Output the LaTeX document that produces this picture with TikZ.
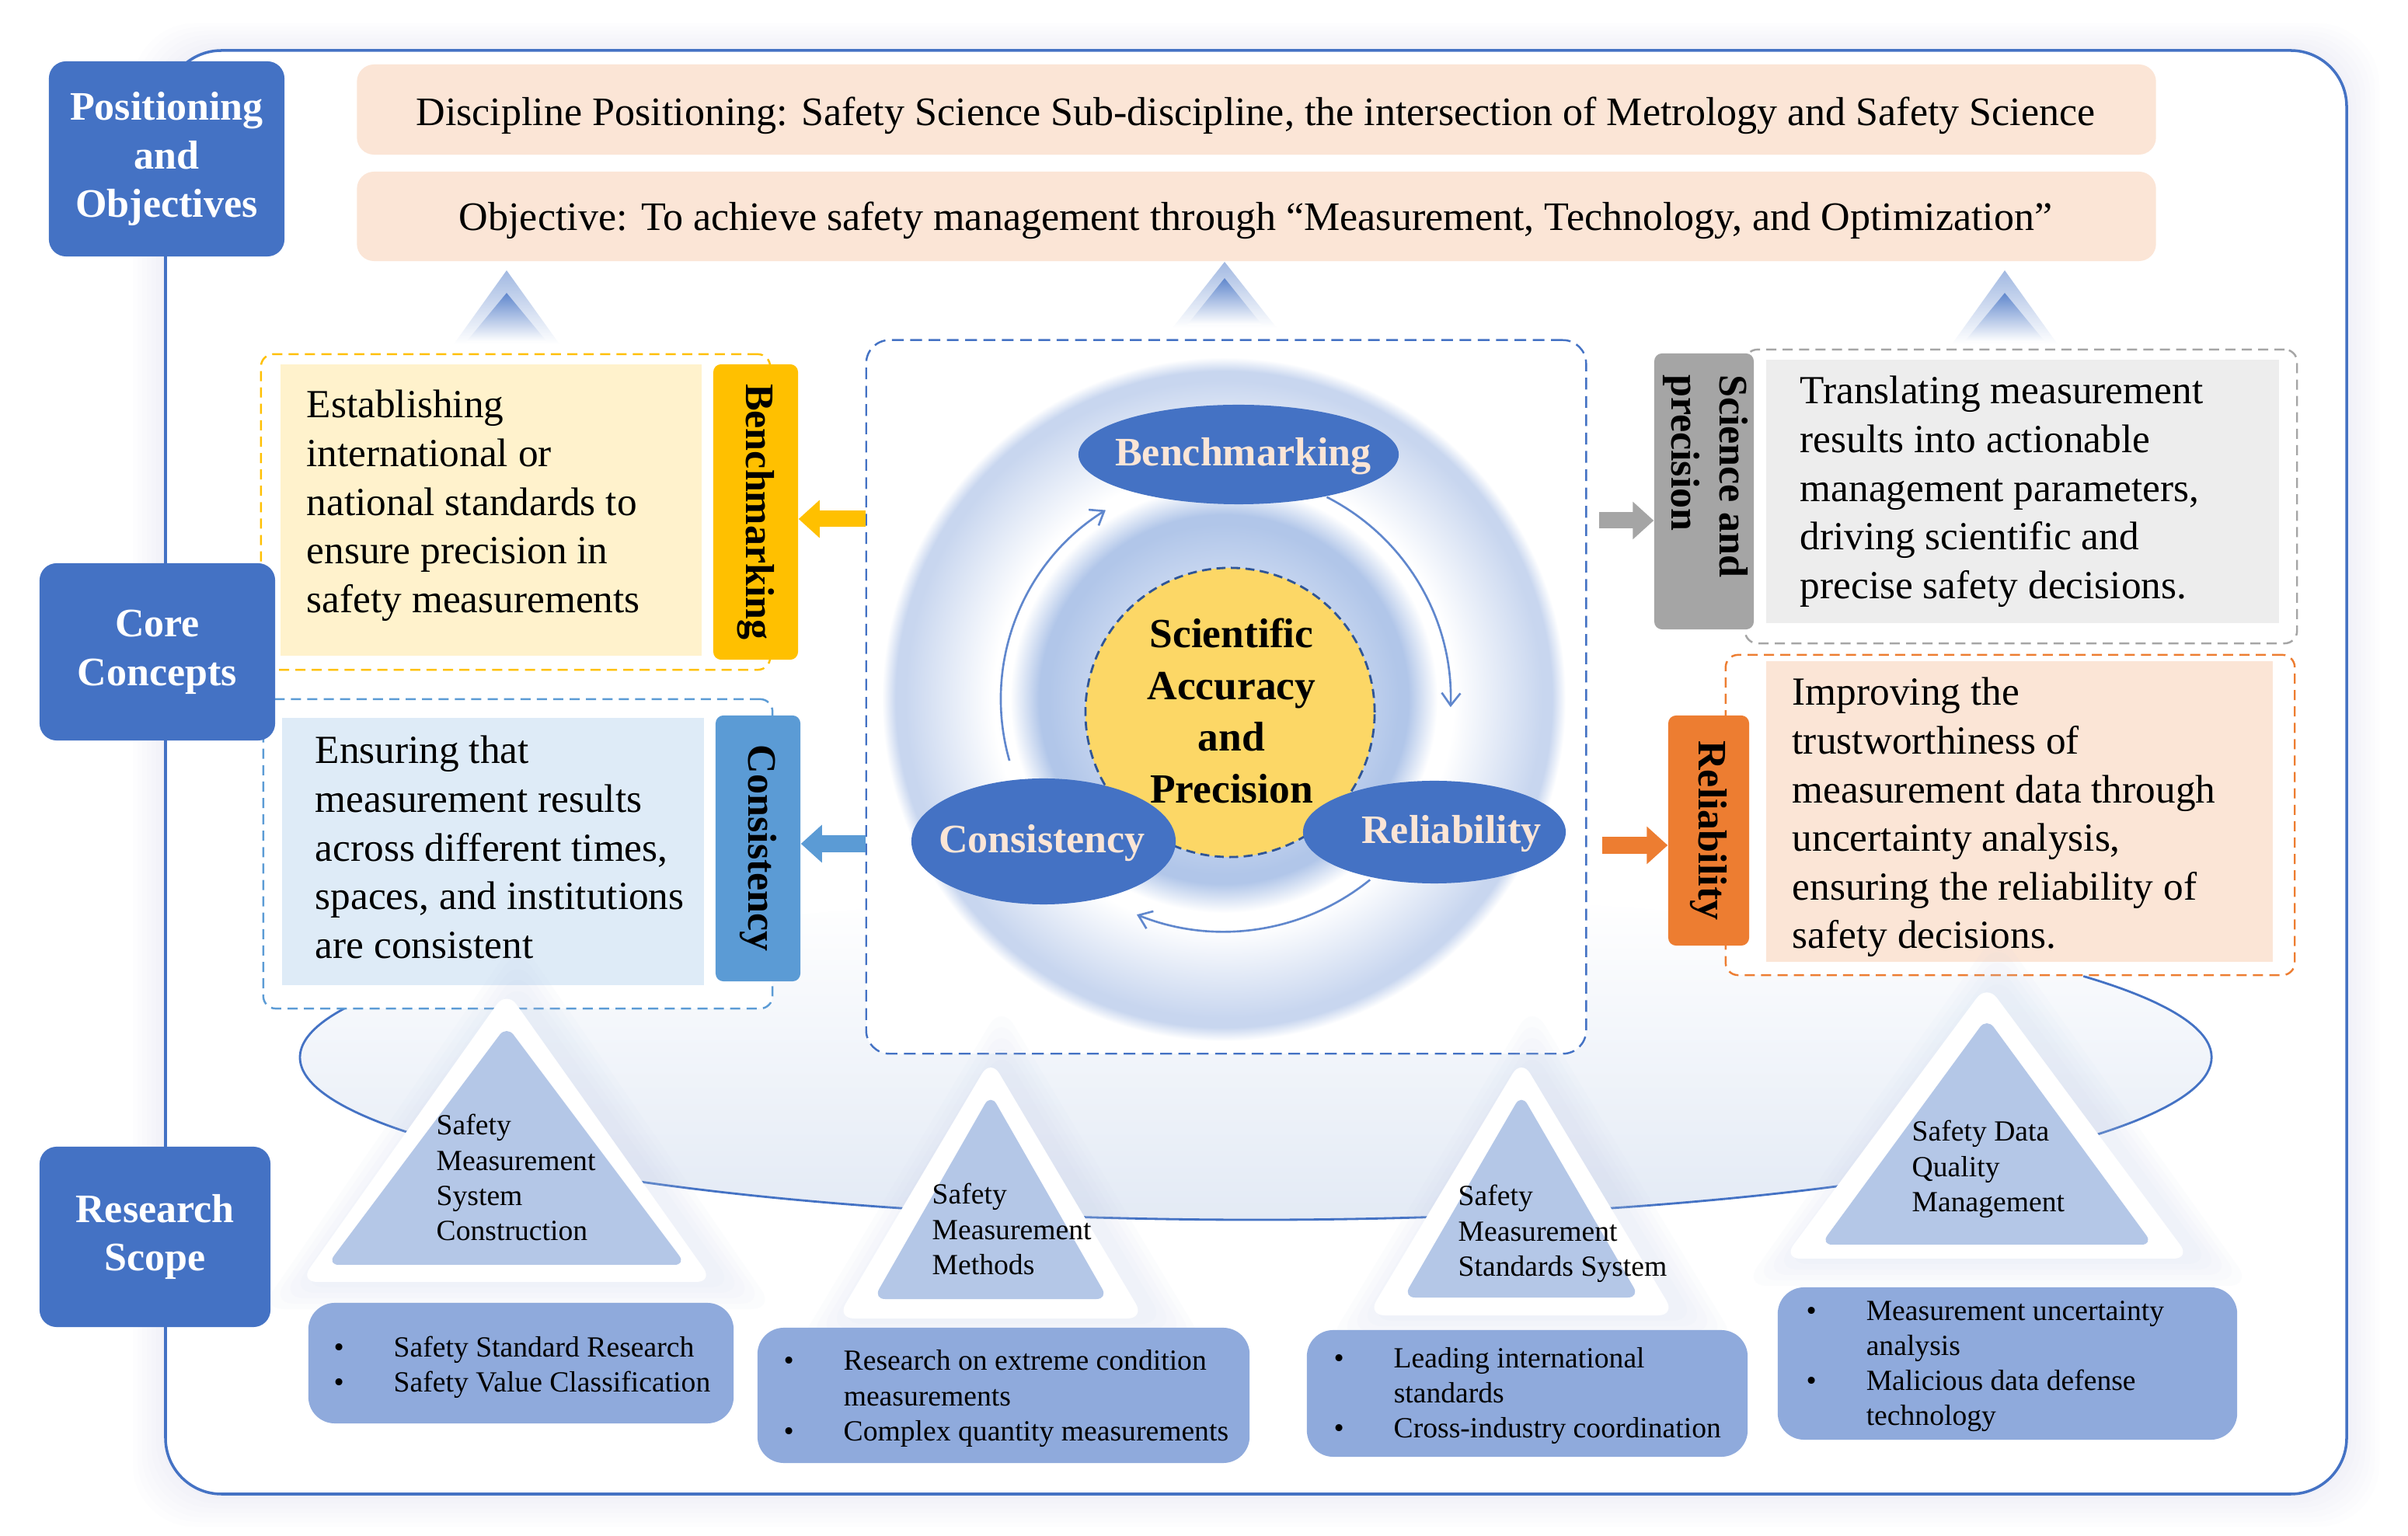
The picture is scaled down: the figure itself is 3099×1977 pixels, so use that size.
\documentclass[tikz,border=0pt]{standalone}
\usepackage{fontspec}
\setmainfont{Liberation Serif}
\usetikzlibrary{arrows.meta,shapes.geometric}
\definecolor{cBlue}{HTML}{4472C4}
\definecolor{cPeach}{HTML}{FBE5D6}
\definecolor{cOrange}{HTML}{ED7D31}
\definecolor{cGold}{HTML}{FFC000}
\definecolor{cCream}{HTML}{FFF2CC}
\definecolor{cSky}{HTML}{5B9BD5}
\definecolor{cIce}{HTML}{DEEBF7}
\definecolor{cGray}{HTML}{A5A5A5}
\definecolor{cLightGray}{HTML}{EDEDED}
\definecolor{cTri}{HTML}{B4C7E7}
\definecolor{cBullet}{HTML}{8FAADC}
\definecolor{cYellow}{HTML}{FCD766}
\definecolor{cRing}{HTML}{C8D6EF}
\definecolor{cInnerEdge}{HTML}{B1C6E9}
\definecolor{cInnerMid}{HTML}{D2DEF3}
\definecolor{cInnerC}{HTML}{E2EAF7}
\definecolor{cEll}{HTML}{E3EAF5}
\definecolor{cGlow}{HTML}{C4D1EA}
\definecolor{cDarkDash}{HTML}{2F5597}
\definecolor{cEllText}{HTML}{FBE5D6}
\pgfdeclareradialshading{ringshade}{\pgfpointorigin}{color(0bp)=(white); color(16.8bp)=(white); color(23.3bp)=(cRing); color(24bp)=(cRing); color(25bp)=(white); color(50bp)=(white)}
\pgfdeclareradialshading{innershade}{\pgfpointorigin}{color(0bp)=(cInnerC); color(12bp)=(cInnerMid); color(20.5bp)=(cInnerEdge); color(21.6bp)=(cInnerEdge); color(25bp)=(white); color(50bp)=(white)}
\newcommand\fbig{\fontsize{14.8pt}{17.9pt}\selectfont}
\newcommand\fbody{\fontsize{14.6pt}{17.8pt}\selectfont}
\newcommand\fsmall{\fontsize{10.7pt}{12.8pt}\selectfont}
\newcommand\fsci{\fontsize{15.2pt}{19pt}\selectfont}
\newcommand\mylines[1]{\begin{tabular}[t]{@{}l@{}}#1\end{tabular}}
\newcommand\mybul{\makebox[0.77cm][l]{\textbullet}}
\newcommand\myind{\hspace*{0.77cm}}
\begin{document}
\begin{tikzpicture}[x=0.01cm, y=-0.01cm,
 lbl/.style={fill=cBlue, rounded corners=0.22cm, text=white, font=\bfseries\fbig, align=center, inner sep=0pt},
 topbox/.style={fill=cPeach, rounded corners=0.22cm, inner sep=0pt},
 dbox/.style={fill=white, line width=0.7pt, dash pattern=on 3.7pt off 2.3pt, rounded corners=0.16cm, inner sep=0pt},
 plainbox/.style={inner sep=0pt},
 tabbox/.style={rounded corners=0.1cm, inner sep=0pt},
 vtext/.style={rotate=-90, font=\bfseries\fbig, align=left, inner sep=0pt},
 ellbl/.style={ellipse, fill=cBlue, inner sep=0pt},
 elltext/.style={text=cEllText, font=\bfseries\fbig, inner sep=0pt},
 bulbox/.style={fill=cBullet, rounded corners=0.34cm, inner sep=0pt},
 bodytxt/.style={anchor=base west, inner sep=0pt, font=\fbody},
 smalltxt/.style={anchor=base west, inner sep=0pt, font=\fsmall},
 fatarrow/.style={line width=0.21cm, -{Triangle[length=0.27cm,width=0.47cm]}},
 cycarrow/.style={draw=cBlue!85, line width=0.75pt, -{Straight Barb[length=0.16cm,width=0.24cm]}}]
\useasboundingbox (0,0) rectangle (3099,1977);
\fill[white] (0,0) rectangle (3099,1977);

% frame with soft glow
\foreach \k in {1,...,7}{
  \fill[cGlow, opacity=0.03, rounded corners=0.8cm] (213-\k*6,65-\k*5) rectangle (3020+\k*6,1923+\k*6);
}
\draw[cBlue, line width=1pt, fill=white, rounded corners=0.72cm] (213,65) rectangle (3020,1923);

% base ellipse (platform): soft fill, outline visible on the lower part only
\shade[top color=white, bottom color=cEll] (1616,1361) ellipse [x radius=1230, y radius=209];
\draw[cBlue, line width=0.8pt] ([shift={(1616,1361)}]-30:1230 and 209) arc[start angle=-30, end angle=205, x radius=1230, y radius=209];

% top boxes
\node[topbox, minimum width=23.14cm, minimum height=1.16cm] (disc) at (1617,141) {};
\node[font=\fbig, anchor=base, inner sep=0pt] (disctext) at (1616,162) {Discipline Positioning: Safety Science Sub-discipline, the intersection of Metrology and Safety Science};
\node[topbox, minimum width=23.14cm, minimum height=1.15cm] (obj) at (1617,278.5) {};
\node[font=\fbig, anchor=base, inner sep=0pt] (objtext) at (1616,297) {Objective: To achieve safety management through “Measurement, Technology, and Optimization”};

% chevrons
\foreach \cx/\oa/\ob/\ohw/\ia/\ib/\ihw in {652/348/443/68/377/440/52, 1576/337/422/67/358/418/48, 2580/348/443/68/377/440/52}{
  \shade[top color=cBlue!50, bottom color=white] (\cx,\oa) -- (\cx+\ohw,\ob) -- (\cx-\ohw,\ob) -- cycle;
  \shade[top color=cBlue!85, bottom color=white] (\cx,\ia) -- (\cx+\ihw,\ib) -- (\cx-\ihw,\ib) -- cycle;
}

% left: benchmarking
\node[dbox, draw=cGold, minimum width=6.55cm, minimum height=4.06cm] (bmdash) at (663.5,659) {};
\node[plainbox, fill=cCream, minimum width=5.42cm, minimum height=3.75cm] (bmfill) at (632,656.5) {};
\node[tabbox, fill=cGold, minimum width=1.09cm, minimum height=3.8cm] (bmtab) at (972.5,659) {};
\node[vtext] (bmlab) at (bmtab.center) {Benchmarking};
\node[bodytxt] (bmtext) at (394,538) {\mylines{Establishing\\international or\\national standards to\\ensure precision in\\safety measurements}};

% left: consistency
\node[dbox, draw=cSky, minimum width=6.55cm, minimum height=3.98cm] (cndash) at (666.5,1099) {};
\node[plainbox, fill=cIce, minimum width=5.43cm, minimum height=3.44cm] (cnfill) at (634.5,1096) {};
\node[tabbox, fill=cSky, minimum width=1.09cm, minimum height=3.42cm] (cntab) at (975.5,1092) {};
\node[vtext] (cnlab) at (cntab.center) {Consistency};
\node[bodytxt] (cntext) at (405,983) {\mylines{Ensuring that\\measurement results\\across different times,\\spaces, and institutions\\are consistent}};

% right: science and precision
\node[dbox, draw=cGray, minimum width=7.1cm, minimum height=3.78cm] (spdash) at (2601,639) {};
\node[plainbox, fill=cLightGray, minimum width=6.6cm, minimum height=3.39cm] (spfill) at (2603,632.5) {};
\node[tabbox, fill=cGray, minimum width=1.28cm, minimum height=3.55cm] (sptab) at (2193,632.5) {};
\node[vtext] (splab) at (2195,613) {Science and\\precision};
\node[bodytxt] (sptext) at (2316,520) {\mylines{Translating measurement\\results into actionable\\management parameters,\\driving scientific and\\precise safety decisions.}};

% right: reliability
\node[dbox, draw=cOrange, minimum width=7.32cm, minimum height=4.12cm] (rldash) at (2587,1049) {};
\node[plainbox, fill=cPeach, minimum width=6.52cm, minimum height=3.87cm] (rlfill) at (2599,1044.5) {};
\node[tabbox, fill=cOrange, minimum width=1.04cm, minimum height=2.96cm] (rltab) at (2199,1069) {};
\node[vtext] (rllab) at (rltab.center) {Reliability};
\node[bodytxt] (rltext) at (2306,908) {\mylines{Improving the\\trustworthiness of\\measurement data through\\uncertainty analysis,\\ensuring the reliability of\\safety decisions.}};

% central block
\node[dbox, draw=cBlue, rounded corners=0.3cm, dash pattern=on 4.3pt off 2.4pt, minimum width=9.26cm, minimum height=9.18cm] (core) at (1578,897) {};
\shade[shading=ringshade] (1575,900) circle [radius=440];
\shade[shading=innershade] (1575,900) circle [radius=275];
\node[circle, fill=cYellow, draw=cDarkDash, line width=0.8pt, dash pattern=on 3.3pt off 2pt, minimum size=3.72cm, inner sep=0pt] (sci) at (1583,917) {};
\draw[cycarrow] ([shift={(1575,900)}]164:287) arc[start angle=164, end angle=238, radius=287];
\draw[cycarrow] ([shift={(1575,900)}]-63:292) arc[start angle=-63, end angle=2, radius=292];
\draw[cycarrow] ([shift={(1575,900)}]51:299) arc[start angle=51, end angle=112, radius=299];
\node[ellbl, minimum width=4.12cm, minimum height=1.28cm] (bm) at (1594,585) {};
\node[elltext] (bmt) at (1600,587) {Benchmarking};
\node[ellbl, minimum width=3.4cm, minimum height=1.62cm] (cn) at (1343,1083) {};
\node[elltext] (cnt) at (1341,1085) {Consistency};
\node[ellbl, minimum width=3.38cm, minimum height=1.32cm] (rl) at (1846,1071) {};
\node[elltext] (rlt) at (1868,1073) {Reliability};
\node[font=\bfseries\fsci, align=center, inner sep=0pt] (scitext) at (1585,915) {Scientific\\Accuracy\\and\\Precision};

% arrows from the core to the tabs
\coordinate (yA) at (0,668);
\coordinate (yB) at (0,1086);
\coordinate (yC) at (0,670);
\coordinate (yD) at (0,1088);
\draw[fatarrow, cGold] (core.west |- yA) -- (bmtab.east |- yA);
\draw[fatarrow, cSky] (core.west |- yB) -- (cntab.east |- yB);
\draw[fatarrow, cGray] ([xshift=0.15cm]core.east |- yC) -- (sptab.west |- yC);
\draw[fatarrow, cOrange] ([xshift=0.19cm]core.east |- yD) -- (rltab.west |- yD);

% triangles
\foreach \cx/\ia/\ib/\ihw/\oa/\ob/\ohw in {652/1320/1628/231/1275/1650/266, 1275/1408/1672/151/1363/1697/198, 1958/1408/1670/152/1363/1693/198, 2557/1310/1602/214/1267/1620/262}{
  \foreach \k in {1,...,5}{
    \fill[cGlow, opacity=0.05, rounded corners=0.3cm] (\cx+14,\ob+\k*7) -- (\cx+14+\ohw+\k*13,\ob+\k*7) -- (\cx+14,\oa-\k*14) -- (\cx+14-\ohw-\k*13,\ob+\k*7) -- cycle;
  }
  \fill[white, rounded corners=0.22cm] (\cx,\ob) -- (\cx+\ohw,\ob) -- (\cx,\oa) -- (\cx-\ohw,\ob) -- cycle;
  \fill[cTri, rounded corners=0.15cm] (\cx,\ib) -- (\cx+\ihw,\ib) -- (\cx,\ia) -- (\cx-\ihw,\ib) -- cycle;
}
\node[smalltxt] (t1) at (561,1461) {\mylines{Safety\\Measurement\\System\\Construction}};
\node[smalltxt] (t2) at (1199,1550) {\mylines{Safety\\Measurement\\Methods}};
\node[smalltxt] (t3) at (1876,1552) {\mylines{Safety\\Measurement\\Standards System}};
\node[smalltxt] (t4) at (2460,1469) {\mylines{Safety Data\\Quality\\Management}};

% bullet boxes
\node[bulbox, minimum width=5.47cm, minimum height=1.55cm] (b1) at (670.5,1754.5) {};
\node[smalltxt] (b1t) at (429,1746) {\mylines{\mybul Safety Standard Research\\\mybul Safety Value Classification}};
\node[bulbox, minimum width=6.33cm, minimum height=1.74cm] (b2) at (1291.5,1796) {};
\node[smalltxt] (b2t) at (1008,1764) {\mylines{\mybul Research on extreme condition\\\myind measurements\\\mybul Complex quantity measurements}};
\node[bulbox, minimum width=5.67cm, minimum height=1.63cm] (b3) at (1965.5,1793.5) {};
\node[smalltxt] (b3t) at (1716,1760) {\mylines{\mybul Leading international\\\myind standards\\\mybul Cross-industry coordination}};
\node[bulbox, minimum width=5.91cm, minimum height=1.96cm] (b4) at (2583.5,1755) {};
\node[smalltxt] (b4t) at (2324,1699) {\mylines{\mybul Measurement uncertainty\\\myind analysis\\\mybul Malicious data defense\\\myind technology}};

% section labels
\node[lbl, minimum width=3.03cm, minimum height=2.51cm] (posobj) at (214.5,204.5) {Positioning\\and\\Objectives};
\node[lbl, minimum width=3.03cm, minimum height=2.28cm] (corec) at (202.5,839) {Core\\Concepts};
\node[lbl, minimum width=2.97cm, minimum height=2.32cm] (rscope) at (199.5,1592) {Research\\Scope};
\end{tikzpicture}
\end{document}
